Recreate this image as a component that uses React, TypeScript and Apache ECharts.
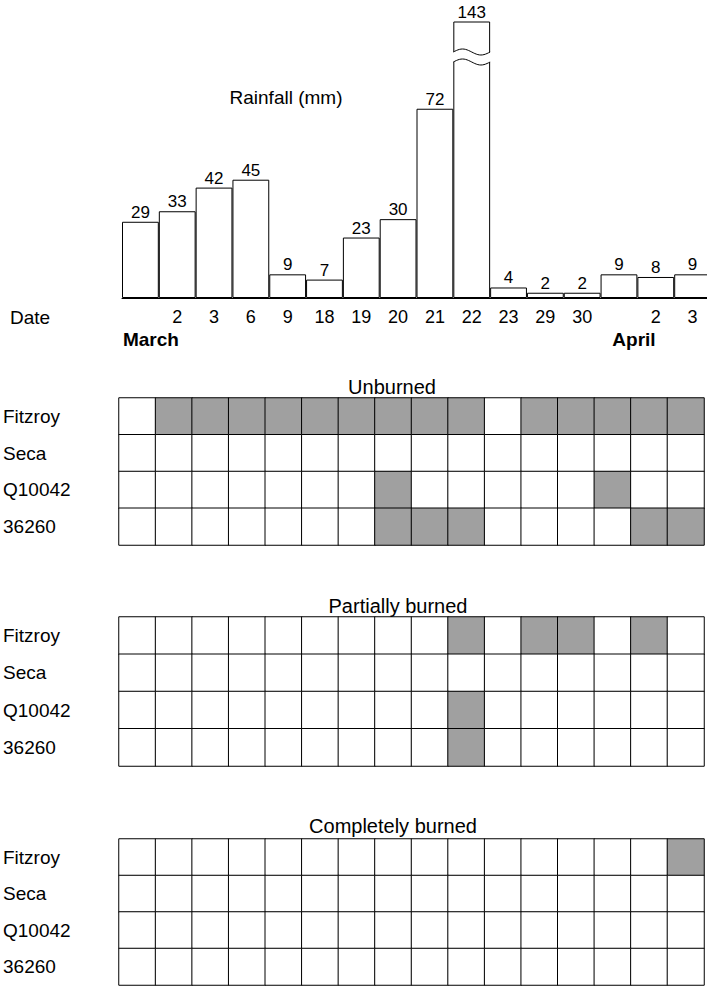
import React, { useEffect, useRef } from 'react';
import * as echarts from 'echarts';

// ---------- data ----------
const dateLabels = ['', '2', '3', '6', '9', '18', '19', '20', '21', '22', '23', '29', '30', '', '2', '3'];
const monthLabels = ['March', '', '', '', '', '', '', '', '', '', '', '', '', 'April', '', ''];
const rainfall = [29, 33, 42, 45, 9, 7, 23, 30, 72, 143, 4, 2, 2, 9, 8, 9];
const sites = ['Fitzroy', 'Seca', 'Q10042', '36260'];
const panelTitles = ['Unburned', 'Partially burned', 'Completely burned'];

const unburnedFitzroy = [0, 1, 1, 1, 1, 1, 1, 1, 1, 1, 0, 1, 1, 1, 1, 1];
const unburnedSeca = [0, 0, 0, 0, 0, 0, 0, 0, 0, 0, 0, 0, 0, 0, 0, 0];
const unburnedQ10042 = [0, 0, 0, 0, 0, 0, 0, 1, 0, 0, 0, 0, 0, 1, 0, 0];
const unburned36260 = [0, 0, 0, 0, 0, 0, 0, 1, 1, 1, 0, 0, 0, 0, 1, 1];

const partialFitzroy = [0, 0, 0, 0, 0, 0, 0, 0, 0, 1, 0, 1, 1, 0, 1, 0];
const partialSeca = [0, 0, 0, 0, 0, 0, 0, 0, 0, 0, 0, 0, 0, 0, 0, 0];
const partialQ10042 = [0, 0, 0, 0, 0, 0, 0, 0, 0, 1, 0, 0, 0, 0, 0, 0];
const partial36260 = [0, 0, 0, 0, 0, 0, 0, 0, 0, 1, 0, 0, 0, 0, 0, 0];

const completeFitzroy = [0, 0, 0, 0, 0, 0, 0, 0, 0, 0, 0, 0, 0, 0, 0, 1];
const completeSeca = [0, 0, 0, 0, 0, 0, 0, 0, 0, 0, 0, 0, 0, 0, 0, 0];
const completeQ10042 = [0, 0, 0, 0, 0, 0, 0, 0, 0, 0, 0, 0, 0, 0, 0, 0];
const complete36260 = [0, 0, 0, 0, 0, 0, 0, 0, 0, 0, 0, 0, 0, 0, 0, 0];

const panels = [
  [unburnedFitzroy, unburnedSeca, unburnedQ10042, unburned36260],
  [partialFitzroy, partialSeca, partialQ10042, partial36260],
  [completeFitzroy, completeSeca, completeQ10042, complete36260],
];

// ---------- layout / style ----------
const FONT = '"Liberation Sans", Arial, Helvetica, sans-serif';
const Y_DISPLAY_MAX = 105;
const barGrid = { left: 122, top: 22, width: 589, height: 276 };
const panelGrids = [
  { left: 119, top: 398, width: 585, height: 147 },
  { left: 119, top: 617, width: 585, height: 149 },
  { left: 119, top: 839, width: 585, height: 146 },
];
const panelTitlePos = [
  [392, 387],
  [398, 606],
  [393, 826],
];
const SHADE = '#a0a0a0';

function buildHeat(rows: number[][]) {
  const out: number[][] = [];
  rows.forEach((row, r) => row.forEach((v, c) => out.push([c, r, v])));
  return out;
}

export default function App() {
  const ref = useRef<HTMLDivElement>(null);
  useEffect(() => {
    if (!ref.current) return;
    const chart = echarts.init(ref.current, null, { renderer: 'svg' });

    const grids: any[] = [
      { ...barGrid, outerBoundsMode: 'none', containLabel: false },
      ...panelGrids.map((g) => ({ ...g, outerBoundsMode: 'none', containLabel: false })),
    ];

    const xAxes: any[] = [
      {
        gridIndex: 0,
        type: 'category',
        data: dateLabels,
        axisLine: { show: true, lineStyle: { color: '#000', width: 1 } },
        axisTick: { show: false },
        splitLine: { show: false },
        axisLabel: {
          interval: 0,
          margin: 9,
          color: '#000',
          formatter: (_v: string, i: number) => {
            const d = dateLabels[i] || ' ';
            const m = monthLabels[i];
            const key = m ? m.slice(0, 3).toLowerCase() : 'm';
            return `{d|${d}}\n{${key}|${m || ' '}}`;
          },
          rich: {
            d: { fontSize: 18, lineHeight: 20, fontFamily: FONT, color: '#000' },
            m: { fontSize: 19, lineHeight: 24, fontFamily: FONT, color: '#000' },
            mar: { fontSize: 19, lineHeight: 24, fontWeight: 'bold', fontFamily: FONT, color: '#000', padding: [0, 0, 0, 21] },
            apr: { fontSize: 19, lineHeight: 24, fontWeight: 'bold', fontFamily: FONT, color: '#000', padding: [0, 0, 0, 30] },
          },
        },
      },
      ...panelGrids.map((_, k) => ({
        gridIndex: k + 1,
        type: 'category',
        data: dateLabels.map((_d, i) => String(i)),
        show: false,
      })),
    ];

    const yAxes: any[] = [
      { gridIndex: 0, type: 'value', min: 0, max: Y_DISPLAY_MAX, show: false },
      ...panelGrids.map((_, k) => ({
        gridIndex: k + 1,
        type: 'category',
        data: sites,
        inverse: true,
        axisLine: { show: false },
        axisTick: { show: false },
        splitLine: { show: false },
        axisLabel: {
          interval: 0,
          align: 'left',
          margin: 116,
          fontSize: 19,
          fontFamily: FONT,
          color: '#000',
        },
      })),
    ];

    const series: any[] = [
      {
        type: 'bar',
        xAxisIndex: 0,
        yAxisIndex: 0,
        data: rainfall,
        barCategoryGap: '0%',
        clip: true,
        silent: true,
        itemStyle: { color: '#fff', borderColor: '#000', borderWidth: 1 },
        label: { show: true, position: 'top', distance: 1, fontSize: 17, fontFamily: FONT, color: '#000' },
        emphasis: { disabled: true },
      },
      ...panels.map((rows, k) => ({
        type: 'heatmap',
        xAxisIndex: k + 1,
        yAxisIndex: k + 1,
        data: buildHeat(rows),
        silent: true,
        itemStyle: { borderColor: '#000', borderWidth: 1 },
        label: { show: false },
        emphasis: { disabled: true },
      })),
    ];

    chart.setOption({
      animation: false,
      backgroundColor: '#fff',
      textStyle: { fontFamily: FONT },
      grid: grids,
      xAxis: xAxes,
      yAxis: yAxes,
      visualMap: {
        type: 'piecewise',
        show: false,
        seriesIndex: [1, 2, 3],
        dimension: 2,
        pieces: [
          { value: 0, color: '#ffffff' },
          { value: 1, color: SHADE },
        ],
      },
      series,
    });

    // axis-break decoration on the tallest (clipped) bar
    const breakIdx = rainfall.indexOf(Math.max(...rainfall));
    const pBase = chart.convertToPixel({ xAxisIndex: 0, yAxisIndex: 0 }, [breakIdx, 0]) as number[];
    const pTop = chart.convertToPixel({ xAxisIndex: 0, yAxisIndex: 0 }, [breakIdx, Y_DISPLAY_MAX]) as number[];
    const bandW = barGrid.width / rainfall.length;
    const L = pBase[0] - bandW / 2;
    const R = pBase[0] + bandW / 2;
    const yU = pTop[1] + 30;
    const yLo = pTop[1] + 40;
    const amp = 3;
    const N = 24;
    const wave = (yc: number) => {
      const pts: number[][] = [];
      for (let i = 0; i <= N; i++) {
        const t = i / N;
        pts.push([L + t * (R - L), yc - amp * Math.sin(2 * Math.PI * t)]);
      }
      return pts;
    };
    const up = wave(yU);
    const lo = wave(yLo);
    const cover = [[L - 2, up[0][1]], ...up, [R + 2, up[N][1]], [R + 2, lo[N][1]], ...lo.slice().reverse(), [L - 2, lo[0][1]]];

    const graphics: any[] = [
      {
        type: 'text', x: 286, y: 97, z: 100,
        style: { text: 'Rainfall (mm)', fontSize: 19, fontFamily: FONT, fill: '#000', align: 'center', verticalAlign: 'middle' },
      },
      {
        type: 'text', x: 10, y: 317, z: 100,
        style: { text: 'Date', fontSize: 19, fontFamily: FONT, fill: '#000', align: 'left', verticalAlign: 'middle' },
      },
      ...panelTitles.map((t, k) => ({
        type: 'text', x: panelTitlePos[k][0], y: panelTitlePos[k][1], z: 100,
        style: { text: t, fontSize: 20, fontFamily: FONT, fill: '#000', align: 'center', verticalAlign: 'middle' },
      })),
      { type: 'polygon', z: 100, shape: { points: cover }, style: { fill: '#fff', stroke: null } },
      { type: 'polyline', z: 101, shape: { points: up }, style: { fill: null, stroke: '#000', lineWidth: 1 } },
      { type: 'polyline', z: 101, shape: { points: lo }, style: { fill: null, stroke: '#000', lineWidth: 1 } },
    ];
    chart.setOption({ graphic: graphics });

    return () => chart.dispose();
  }, []);

  return (
    <div
      ref={ref}
      style={{ position: 'absolute', left: 0, top: 0, width: 707, height: 990, background: '#fff' }}
    />
  );
}
